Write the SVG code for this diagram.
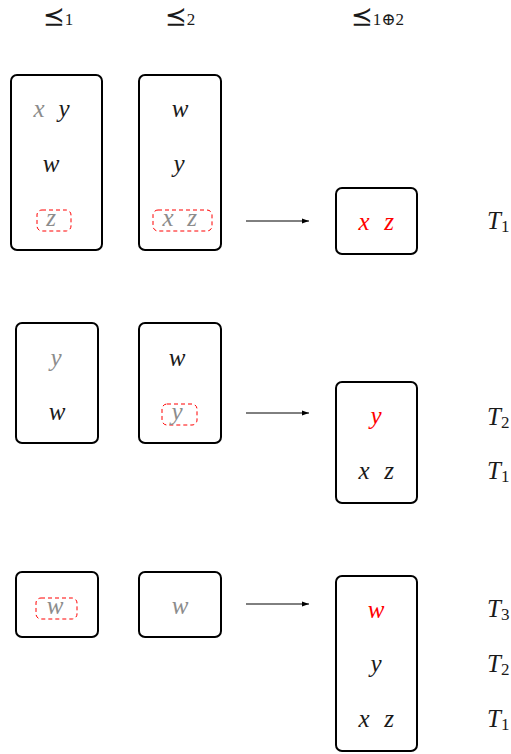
<svg xmlns="http://www.w3.org/2000/svg" width="511" height="754" viewBox="0 0 511 754">
<style>
.box{fill:none;stroke:#000;stroke-width:2}
.sel{fill:none;stroke:#ff0000;stroke-width:1;stroke-dasharray:4 3}
.v{font-family:"Liberation Serif","DejaVu Serif",serif;font-style:italic;font-size:25px;text-anchor:middle;fill:#1a1a1a}
.g{fill:#8c8c8c}
.r{fill:#ff0000}
.t{font-family:"Liberation Serif","DejaVu Serif",serif;font-style:italic;font-size:25px;fill:#1a1a1a}
.sub{font-style:normal;font-size:17px}
.h{font-family:"DejaVu Sans","Liberation Serif",serif;font-size:26px;fill:#1a1a1a}
.hs{font-family:"Liberation Serif","DejaVu Serif",serif;font-size:17px}
.arr{stroke:#000;stroke-width:1;fill:none;marker-end:url(#ah)}
</style>
<defs>
<marker id="ah" markerWidth="8" markerHeight="6" refX="7" refY="3" orient="auto" markerUnits="userSpaceOnUse">
<path d="M0,0.5 L7,3 L0,5.5 z" fill="#000"/>
</marker>
</defs>

<g id="headers">
<text class="h" x="43" y="25">⪯<tspan class="hs">1</tspan></text>
<text class="h" x="165" y="25">⪯<tspan class="hs">2</tspan></text>
<text class="h" x="351" y="25">⪯<tspan class="hs">1⊕2</tspan></text>
</g>

<g id="connectors">
<line class="arr" x1="246" y1="221" x2="309" y2="221"/>
<line class="arr" x1="246" y1="413" x2="309" y2="413"/>
<line class="arr" x1="246" y1="604" x2="309" y2="604"/>
</g>

<g id="A1">
<rect class="box" x="11" y="75" width="91" height="175" rx="6"/>
<text class="v g" x="39" y="117">x</text>
<text class="v" x="64" y="117">y</text>
<text class="v" x="51" y="172">w</text>
<rect class="sel" x="37" y="210" width="34" height="21" rx="5"/>
<text class="v g" x="51" y="226">z</text>
</g>

<g id="B1">
<rect class="box" x="139" y="75" width="82" height="175" rx="6"/>
<text class="v" x="180" y="117">w</text>
<text class="v" x="179" y="172">y</text>
<rect class="sel" x="153" y="210" width="59" height="21" rx="5"/>
<text class="v g" x="168" y="226">x</text>
<text class="v g" x="192" y="226">z</text>
</g>

<g id="C1">
<rect class="box" x="336" y="188" width="81" height="66" rx="6"/>
<text class="v r" x="364" y="230">x</text>
<text class="v r" x="389" y="230">z</text>
</g>
<text id="T1a" class="t r" x="487" y="229">T<tspan class="sub" dy="3">1</tspan></text>

<g id="A2">
<rect class="box" x="16" y="323" width="82" height="120" rx="6"/>
<text class="v g" x="56" y="366">y</text>
<text class="v" x="57" y="420">w</text>
</g>

<g id="B2">
<rect class="box" x="139" y="323" width="82" height="120" rx="6"/>
<text class="v" x="177" y="366">w</text>
<rect class="sel" x="162" y="404" width="35" height="21" rx="5"/>
<text class="v g" x="177" y="420">y</text>
</g>

<g id="C2">
<rect class="box" x="336" y="382" width="81" height="121" rx="6"/>
<text class="v r" x="376" y="424">y</text>
<text class="v" x="364" y="479">x</text>
<text class="v" x="389" y="479">z</text>
</g>
<text id="T2b" class="t r" x="487" y="425">T<tspan class="sub" dy="3">2</tspan></text>
<text id="T1b" class="t" x="487" y="479">T<tspan class="sub" dy="3">1</tspan></text>

<g id="A3">
<rect class="box" x="16" y="572" width="82" height="65" rx="6"/>
<rect class="sel" x="36" y="598" width="41" height="21" rx="5"/>
<text class="v g" x="55" y="614">w</text>
</g>

<g id="B3">
<rect class="box" x="139" y="572" width="82" height="65" rx="6"/>
<text class="v g" x="180" y="614">w</text>
</g>

<g id="C3">
<rect class="box" x="336" y="576" width="81" height="175" rx="6"/>
<text class="v r" x="376" y="618">w</text>
<text class="v" x="376" y="672">y</text>
<text class="v" x="364" y="727">x</text>
<text class="v" x="389" y="727">z</text>
</g>
<text id="T3c" class="t r" x="487" y="617">T<tspan class="sub" dy="3">3</tspan></text>
<text id="T2c" class="t" x="487" y="672">T<tspan class="sub" dy="3">2</tspan></text>
<text id="T1c" class="t" x="487" y="727">T<tspan class="sub" dy="3">1</tspan></text>
</svg>
